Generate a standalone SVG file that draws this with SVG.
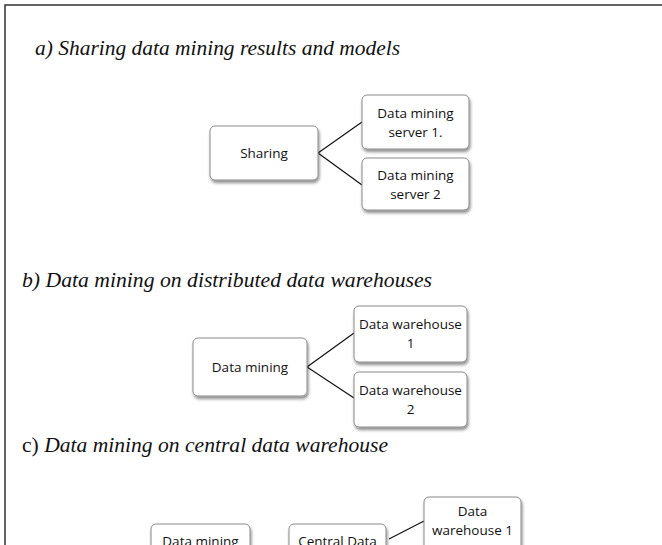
<svg xmlns="http://www.w3.org/2000/svg" width="662" height="545" viewBox="0 0 662 545">
<defs>
<filter id="sh" x="-20%" y="-20%" width="140%" height="150%">
<feDropShadow dx="1" dy="2.5" stdDeviation="1.5" flood-color="#000" flood-opacity="0.45"/>
</filter>
<style>
.box{fill:#fff;stroke:#8a8a8a;stroke-width:1;filter:url(#sh)}
.lbl{font-family:"Open Sans","Liberation Sans",sans-serif;font-size:13.5px;fill:#111;text-anchor:middle}
.ttl{font-family:"Liberation Serif",serif;font-style:italic;font-size:21px;fill:#111}
.up{font-style:normal}
.con{stroke:#111;stroke-width:1.2;fill:none}
.frame{stroke:#333;stroke-width:1.5;fill:none}
</style>
</defs>
<rect width="662" height="545" fill="#fff"/>
<path class="frame" d="M5,545 V5 H662"/>

<text class="ttl" x="35" y="55" textLength="365" lengthAdjust="spacingAndGlyphs">a) Sharing data mining results and models</text>
<text class="ttl" x="22" y="287" textLength="410" lengthAdjust="spacingAndGlyphs">b) Data mining on distributed data warehouses</text>
<text class="ttl" x="22" y="452" textLength="366" lengthAdjust="spacingAndGlyphs"><tspan class="up">c)</tspan> Data mining on central data warehouse</text>

<g id="connectors">
<polyline class="con" points="362,122 318,153 362,185"/>
<polyline class="con" points="354,333 307,367 354,398"/>
<line class="con" x1="389" y1="539" x2="424" y2="521"/>
</g>

<g id="a-sharing">
<rect class="box" x="210" y="126" width="108" height="54" rx="5"/>
<text class="lbl" x="264" y="158">Sharing</text>
</g>
<g id="a-server1">
<rect class="box" x="362" y="95" width="107" height="54" rx="5"/>
<text class="lbl" x="415.5" y="118">Data mining</text>
<text class="lbl" x="415.5" y="137">server 1.</text>
</g>
<g id="a-server2">
<rect class="box" x="362" y="158" width="107" height="52" rx="5"/>
<text class="lbl" x="415.5" y="180">Data mining</text>
<text class="lbl" x="415.5" y="199">server 2</text>
</g>

<g id="b-datamining">
<rect class="box" x="193" y="338" width="114" height="58" rx="5"/>
<text class="lbl" x="250" y="372">Data mining</text>
</g>
<g id="b-dw1">
<rect class="box" x="354" y="306" width="113" height="56" rx="5"/>
<text class="lbl" x="410.5" y="329">Data warehouse</text>
<text class="lbl" x="410.5" y="348">1</text>
</g>
<g id="b-dw2">
<rect class="box" x="354" y="372" width="113" height="55" rx="5"/>
<text class="lbl" x="410.5" y="395">Data warehouse</text>
<text class="lbl" x="410.5" y="414">2</text>
</g>

<g id="c-datamining">
<rect class="box" x="151" y="524" width="99" height="50" rx="5"/>
<text class="lbl" x="200.5" y="546">Data mining</text>
</g>
<g id="c-central">
<rect class="box" x="289" y="524" width="97" height="50" rx="5"/>
<text class="lbl" x="337.5" y="546">Central Data</text>
</g>
<g id="c-dw1">
<rect class="box" x="424" y="497" width="97" height="60" rx="5"/>
<text class="lbl" x="472.5" y="516">Data</text>
<text class="lbl" x="472.5" y="535">warehouse 1</text>
</g>
</svg>
